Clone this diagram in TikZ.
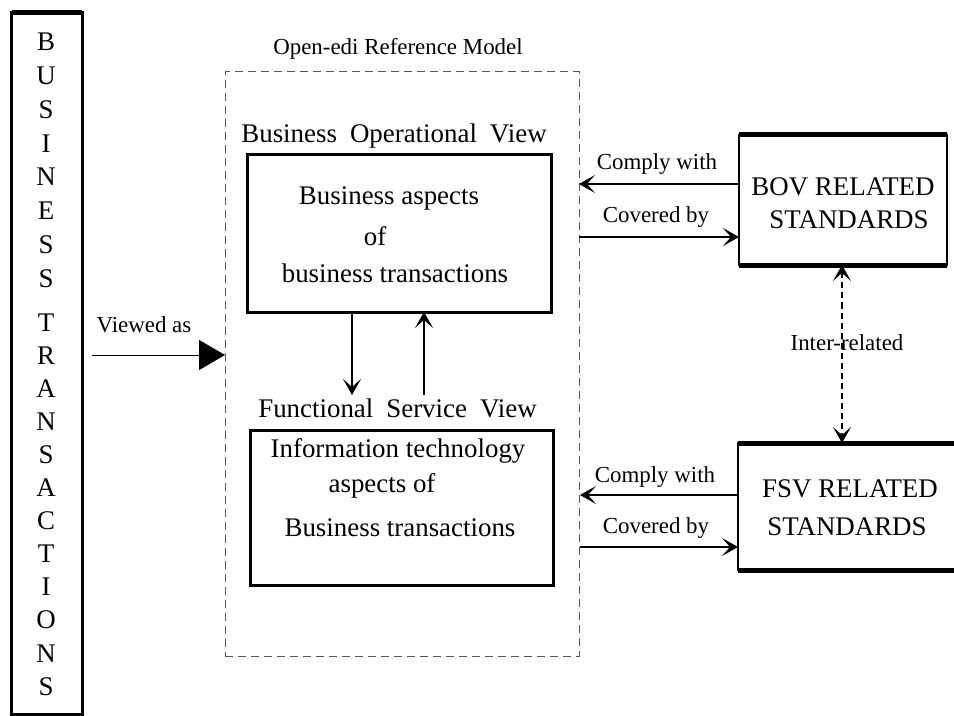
\documentclass[tikz,border=0pt]{standalone}
\usepackage{fontspec}
\setmainfont{Liberation Serif}
\usetikzlibrary{arrows.meta}
\newcommand\fbig{\fontsize{27}{32}\selectfont}
\newcommand\fsmall{\fontsize{23}{28}\selectfont}
\tikzset{
  txt/.style={font=\fbig, inner sep=0pt, anchor=base},
  lbl/.style={font=\fsmall, inner sep=0pt, anchor=base},
  frame/.style={draw, line width=3bp, inner sep=0pt, outer sep=0pt},
  tipA/.tip={Stealth[length=16bp,width=18bp,inset=8bp]},
  conn/.style={line width=1.4bp, -tipA},
  twoway/.style={line width=1.2bp, tipA-tipA},
}
\begin{document}
\begin{tikzpicture}[x=1bp, y=-1bp]
\useasboundingbox (0,0) rectangle (954,716);
\fill[white] (0,0) rectangle (954,716);

% left box: BUSINESS TRANSACTIONS
\node[frame, minimum width=70bp, minimum height=701bp] (bt) at (47,363.5) {};
\draw[line width=5bp] (bt.north west) -- (bt.north east);
\foreach \ch/\yy [count=\i] in {B/51,U/84.7,S/118.4,I/152.1,N/185.8,E/219.5,S/253.2,S/287,
  T/331,R/364.1,A/397.2,N/430.3,S/463.4,A/496.5,C/529.6,T/562.7,I/595.8,O/628.9,N/662,S/695.1}
  \node[txt] (let\i) at (46,\yy) {\ch};

% Open-edi reference model (dashed frame)
\node[draw=black!65, dash pattern=on 8bp off 5bp, line width=1bp, inner sep=0pt, outer sep=0pt,
  minimum width=354bp, minimum height=584bp] (orm) at (402,364) {};
\node[lbl] (ormt) at (398,55) {Open-edi Reference Model};

% BOV
\node[txt] (bovt) at (394,143) {Business\hspace{13bp}Operational\hspace{13bp}View};
\node[frame, minimum width=304bp, minimum height=157bp] (bov) at (399,233.5) {};
\node[txt] (bov1) at (389,204) {Business aspects};
\node[txt] (bov2) at (375,245) {of};
\node[txt] (bov3) at (395,282) {business transactions};

% FSV
\node[txt] (fsvt) at (397.5,417) {Functional\hspace{13bp}Service\hspace{13bp}View};
\node[frame, minimum width=303bp, minimum height=155bp] (fsv) at (401.5,507.5) {};
\node[txt] (fsv1) at (398,457) {Information technology};
\node[txt] (fsv2) at (382,492) {aspects of};
\node[txt] (fsv3) at (400,536) {Business transactions};

% standards boxes
\node[draw, line width=2.5bp, inner sep=0pt, outer sep=0pt, minimum width=208bp, minimum height=130bp] (bovstd) at (843,200) {};
\draw[line width=5bp] (bovstd.north west) -- (bovstd.north east);
\draw[line width=5bp] (bovstd.south west) -- (bovstd.south east);
\node[txt] (bs1) at (843,195) {BOV RELATED};
\node[txt] (bs2) at (849,228) {STANDARDS};

\node[draw, line width=2.5bp, inner sep=0pt, outer sep=0pt, minimum width=222bp, minimum height=127bp] (fsvstd) at (849,506.5) {};
\draw[line width=5bp] (fsvstd.north west) -- (fsvstd.north east);
\draw[line width=5bp] (fsvstd.south west) -- (fsvstd.south east);
\node[txt] (fs1) at (850,497) {FSV RELATED};
\node[txt] (fs2) at (847,535) {STANDARDS};

% connectors BOV <-> standards
\coordinate (bc1) at (579,184);
\coordinate (bc2) at (579,237);
\draw[conn] (bovstd.west |- bc1) -- (bc1);
\draw[conn] (bc2) -- (bovstd.west |- bc2);
\node[lbl] (lc1) at (657,170) {Comply with};
\node[lbl] (lc2) at (656,222) {Covered by};

% connectors FSV <-> standards
\coordinate (fc1) at (580,495);
\coordinate (fc2) at (580,547);
\draw[conn] (fsvstd.west |- fc1) -- (fc1);
\draw[conn] (fc2) -- (fsvstd.west |- fc2);
\node[lbl] (lf1) at (655,482) {Comply with};
\node[lbl] (lf2) at (656,533) {Covered by};

% inter-related
\coordinate (ir) at (842,300);
\draw[twoway, dash pattern=on 6bp off 4bp] (bovstd.south -| ir) -- (fsvstd.north -| ir);
\node[lbl] (lir) at (847,350) {Inter-related};

% BOV <-> FSV
\coordinate (dn) at (352,395);
\coordinate (up) at (424,395);
\draw[conn] (bov.south -| dn) -- (dn);
\draw[conn] (up) -- (bov.south -| up);

% viewed as
\coordinate (va) at (92,355);
\draw[line width=1bp, -{Triangle[length=26bp,width=30bp]}] (va) -- (orm.west |- va);
\node[lbl] (lva) at (144,332) {Viewed as};
\end{tikzpicture}
\end{document}
